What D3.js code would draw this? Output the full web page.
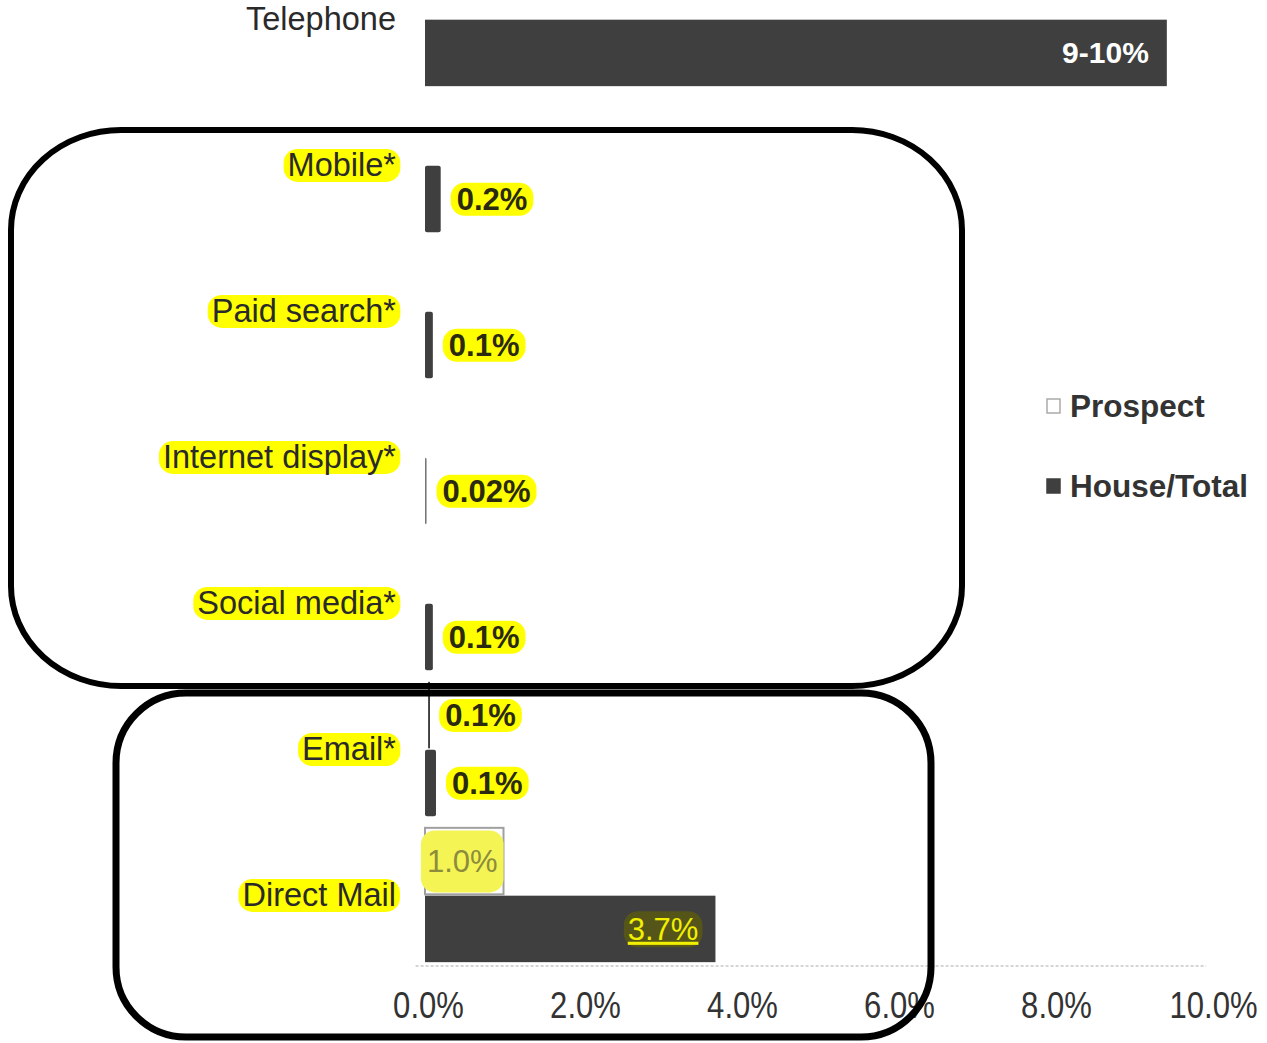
<!DOCTYPE html>
<html><head><meta charset="utf-8">
<script src="https://cdn.jsdelivr.net/npm/d3@7"></script>
<style>
html,body{margin:0;padding:0;background:#fff;}
svg{display:block;font-family:"Liberation Sans",Arial,sans-serif;}
</style></head>
<body>
<svg id="chart" width="1267" height="1043"></svg>
<script>
const categories = ["Telephone","Mobile*","Paid search*","Internet display*","Social media*","Email*","Direct Mail"];
const seriesNames = ["Prospect","House/Total"];
const prospectValues = [null, null, null, null, null, 0.04, 1.0];
const houseValues = [9.45, 0.2, 0.1, 0.02, 0.1, 0.14, 3.7];
const prospectLabels = [null, null, null, null, null, "0.1%", "1.0%"];
const houseLabels = ["9-10%","0.2%","0.1%","0.02%","0.1%","0.1%","3.7%"];
const highlighted = [false, true, true, true, true, true, true];
const tickValues = [0, 2, 4, 6, 8, 10];

const svg = d3.select("#chart");
const x = d3.scaleLinear().domain([0, 10]).range([425, 1210]);
const y = d3.scaleBand().domain(categories).range([-54, 968]).paddingInner(0.08).paddingOuter(0.04);
const ySub = d3.scaleBand().domain(seriesNames).range([0, y.bandwidth()]).paddingInner(0.02);

const YELLOW = "#ffff00";
const DARK = "#3f3f3f";

// axis baseline (faint dotted)
svg.append("line")
  .attr("x1", x(-0.12)).attr("x2", x(9.95))
  .attr("y1", 966).attr("y2", 966)
  .attr("stroke", "#c8c8c8").attr("stroke-width", 1.5).attr("stroke-dasharray", "3,2");

const axis = svg.append("g").attr("transform", "translate(0,966)")
  .call(d3.axisBottom(x).tickValues(tickValues).tickSize(0).tickFormat(d => d.toFixed(1) + "%"));
axis.select(".domain").remove();
axis.selectAll("text")
  .attr("y", 52).attr("dy", 0)
  .attr("font-size", 37).attr("fill", "#333")
  .attr("font-family", "'Liberation Sans',Arial,sans-serif")
  .attr("transform", "translate(3,0) scale(0.84,1)");

const rows = categories.map((c, i) => ({c, i, p: prospectValues[i], h: houseValues[i], pl: prospectLabels[i], hl: houseLabels[i]}));

// bars
const g = svg.append("g");
rows.forEach(r => {
  if (r.p != null) {
    const isThin = (x(r.p) - x(0)) < 6;
    g.append("rect")
      .attr("x", x(0) + (isThin ? x(r.p) - x(0) : 0)).attr("y", y(r.c) + ySub("Prospect"))
      .attr("width", isThin ? 1.8 : x(r.p) - x(0)).attr("height", ySub.bandwidth())
      .attr("fill", isThin ? "#333" : "#fdfdfd")
      .attr("stroke", isThin ? "none" : "#a0a0a0").attr("stroke-width", 2);
  }
  if (r.h != null) {
    g.append("rect")
      .attr("x", x(0)).attr("y", y(r.c) + ySub("House/Total"))
      .attr("width", Math.max(1.5, x(r.h) - x(0))).attr("height", ySub.bandwidth())
      .attr("fill", r.h < 0.05 ? "#777" : DARK).attr("rx", r.h < 1 ? 2 : 0);
  }
});

function pill(parent, textSel, padX, h, fill) {
  const bb = textSel.node().getBBox();
  parent.insert("rect", () => textSel.node())
    .attr("x", bb.x - padX).attr("y", bb.y + bb.height / 2 - h / 2)
    .attr("width", bb.width + padX * 2).attr("height", h)
    .attr("rx", Math.min(h / 2, 14)).attr("fill", fill);
}

// category labels
const lab = svg.append("g");
rows.forEach(r => {
  const cy = y(r.c) + y.bandwidth() / 2;
  const gg = lab.append("g");
  const t = gg.append("text")
    .attr("x", 396).attr("y", cy).attr("dy", "0.35em")
    .attr("text-anchor", "end").attr("font-size", 32.5).attr("fill", "#2a2a2a")
    .text(r.c);
  if (highlighted[r.i]) pill(gg, t, 4, 33, YELLOW);
});

// value labels
const vl = svg.append("g");
rows.forEach(r => {
  if (r.hl) {
    const cy = y(r.c) + ySub("House/Total") + ySub.bandwidth() / 2;
    const gg = vl.append("g");
    if (r.i === 0) {
      gg.append("text").attr("x", x(r.h) - 18).attr("y", cy).attr("dy", "0.35em")
        .attr("text-anchor", "end").attr("font-size", 30).attr("font-weight", "bold")
        .attr("fill", "#fff").text(r.hl);
    } else if (r.h > 1) {
      const t = gg.append("text").attr("x", x(r.h) - 17).attr("y", cy).attr("dy", "0.35em")
        .attr("text-anchor", "end").attr("font-size", 31)
        .attr("fill", "#f2f000").attr("text-decoration", "underline").text(r.hl);
      pill(gg, t, 4, 36, "#55551a");
    } else {
      const t = gg.append("text").attr("x", x(r.h) + 16).attr("y", cy).attr("dy", "0.35em")
        .attr("font-size", 31).attr("font-weight", "bold").attr("fill", "#2a2a10").text(r.hl);
      pill(gg, t, 6, 33, YELLOW);
    }
  }
  if (r.pl) {
    const cy = y(r.c) + ySub("Prospect") + ySub.bandwidth() / 2;
    const gg = vl.append("g");
    if (r.p > 0.5) {
      const t = gg.append("text").attr("x", (x(0) + x(r.p)) / 2 - 2).attr("y", cy).attr("dy", "0.35em")
        .attr("text-anchor", "middle").attr("font-size", 31)
        .attr("fill", "#8c8c3c").text(r.pl);
      pill(gg, t, 6, 62, "#f4f455");
      gg.select("text").raise();
    } else {
      const t = gg.append("text").attr("x", x(r.p) + 17).attr("y", cy).attr("dy", "0.35em")
        .attr("font-size", 31).attr("font-weight", "bold").attr("fill", "#2a2a10").text(r.pl);
      pill(gg, t, 6, 33, YELLOW);
    }
  }
});

// legend
const legend = svg.append("g");
const legendY = [406, 486];
seriesNames.forEach((s, i) => {
  const lg = legend.append("g").attr("transform", `translate(1047,${legendY[i]})`);
  lg.append("rect").attr("x", 0).attr("y", -7).attr("width", 13).attr("height", 14)
    .attr("fill", i === 0 ? "#fff" : DARK).attr("stroke", i === 0 ? "#aaa" : DARK).attr("stroke-width", 1.5);
  lg.append("text").attr("x", 23).attr("y", 0).attr("dy", "0.35em")
    .attr("font-size", 31.5).attr("font-weight", "bold").attr("fill", "#333").text(s);
});

// hand-drawn grouping outlines
svg.append("rect").attr("x", 11).attr("y", 130).attr("width", 951).attr("height", 556)
  .attr("rx", 110).attr("ry", 100).attr("fill", "none").attr("stroke", "#000").attr("stroke-width", 6);
svg.append("rect").attr("x", 116).attr("y", 693).attr("width", 815).attr("height", 344)
  .attr("rx", 70).attr("ry", 70).attr("fill", "none").attr("stroke", "#000").attr("stroke-width", 7);
</script>
</body></html>
